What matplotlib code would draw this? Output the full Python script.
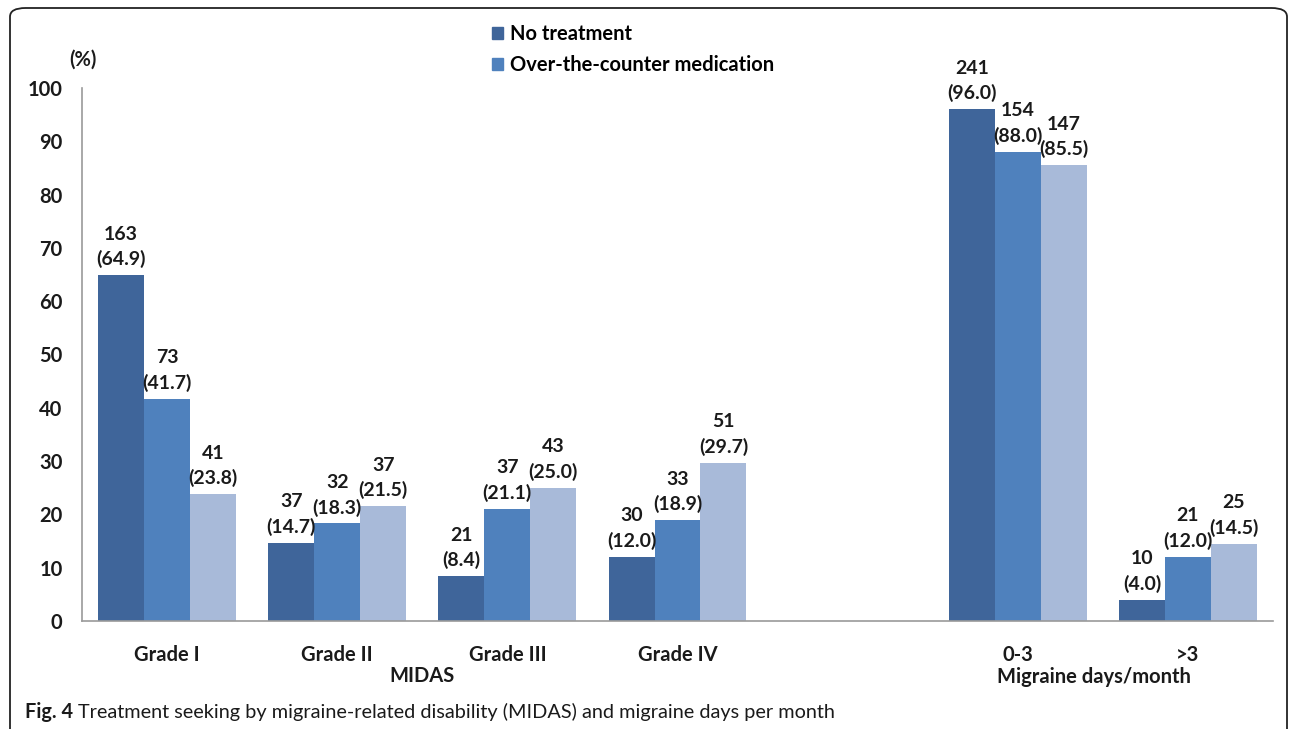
import matplotlib.pyplot as plt
import matplotlib.transforms as mtransforms
from matplotlib.patches import FancyBboxPatch, Patch
import numpy as np

plt.rcParams['font.family'] = ['Lato', 'DejaVu Sans']

# data
categories = ['Grade I', 'Grade II', 'Grade III', 'Grade IV', '0-3', '>3']
positions = [0, 1, 2, 3, 5, 6]
series_names = ['No treatment', 'Over-the-counter medication', 'Prescription medication']
counts = [
    [163, 37, 21, 30, 241, 10],
    [73, 32, 37, 33, 154, 21],
    [41, 37, 43, 51, 147, 25],
]
percents = [
    [64.9, 14.7, 8.4, 12.0, 96.0, 4.0],
    [41.7, 18.3, 21.1, 18.9, 88.0, 12.0],
    [23.8, 21.5, 25.0, 29.7, 85.5, 14.5],
]
colors = ['#3F659A', '#4F81BD', '#A8BAD9']

W, H = 1292, 729
fig = plt.figure(figsize=(W / 100, H / 100), dpi=100)
ax = fig.add_axes([82 / W, 1 - 621 / H, (1273 - 82) / W, (621 - 88) / H])

width = 0.27
x = np.array(positions, dtype=float)
for i in range(3):
    xs = x + (i - 1) * width
    ax.bar(xs, percents[i], width=width, color=colors[i], zorder=2)
    for xi, n, p in zip(xs, counts[i], percents[i]):
        ax.text(xi, p + 1.3, f"{n}\n({p:.1f})", ha='center', va='bottom',
                fontsize=14, fontweight='bold', color='#1a1a1a', linespacing=1.5)

ax.set_xlim(-0.5, 6.5)
ax.set_ylim(0, 100)
ax.set_yticks(range(0, 101, 10))
ax.set_xticks(positions)
ax.set_xticklabels(categories)
ax.tick_params(axis='both', length=0, labelsize=14.5, colors='#1a1a1a')
ax.tick_params(axis='x', pad=17)
ax.tick_params(axis='y', pad=14)
for lab in ax.get_xticklabels() + ax.get_yticklabels():
    lab.set_fontweight('bold')
for s in ['top', 'right']:
    ax.spines[s].set_visible(False)
for s in ['left', 'bottom']:
    ax.spines[s].set_color('#9a9a9a')
    ax.spines[s].set_linewidth(1.2)

trans = mtransforms.blended_transform_factory(ax.transData, fig.transFigure)
ax.text(1.5, 1 - 676 / H, 'MIDAS', transform=trans, ha='center', va='center',
        fontsize=14.5, fontweight='bold', color='#1a1a1a')
ax.text(5.45, 1 - 677 / H, 'Migraine days/month', transform=trans, ha='center', va='center',
        fontsize=14.5, fontweight='bold', color='#1a1a1a')
fig.text(83 / W, 1 - 60 / H, '(%)', ha='center', va='center',
         fontsize=14.5, fontweight='bold', color='#1a1a1a')

# legend only lists the first two series, as in the original
handles = [Patch(color=colors[0], label=series_names[0]),
           Patch(color=colors[1], label=series_names[1])]
fig.legend(handles=handles, loc='upper left', bbox_to_anchor=(474 / W, 1 - 6 / H),
           frameon=False, prop={'size': 14.5, 'weight': 'bold'}, handlelength=0.55,
           handleheight=0.55, handletextpad=0.35, labelspacing=0.55)

# outer frame
frame = FancyBboxPatch((10 / W, -0.05), 1277 / W, 1 - 8 / H + 0.05,
                       boxstyle='round,pad=0,rounding_size=0.012', transform=fig.transFigure,
                       facecolor='none', edgecolor='#222222', linewidth=1.3, clip_on=False)
fig.patches.append(frame)

# caption
t1 = fig.text(25 / W, 1 - 712 / H, 'Fig. 4', ha='left', va='center',
              fontsize=14.3, fontweight='bold', color='#1a1a1a')
fig.canvas.draw()
bb = t1.get_window_extent()
fig.text((bb.x1 + 5) / W, 1 - 712 / H,
         'Treatment seeking by migraine-related disability (MIDAS) and migraine days per month',
         ha='left', va='center', fontsize=14.3, color='#1a1a1a')

fig.savefig('out.png', dpi=100)
